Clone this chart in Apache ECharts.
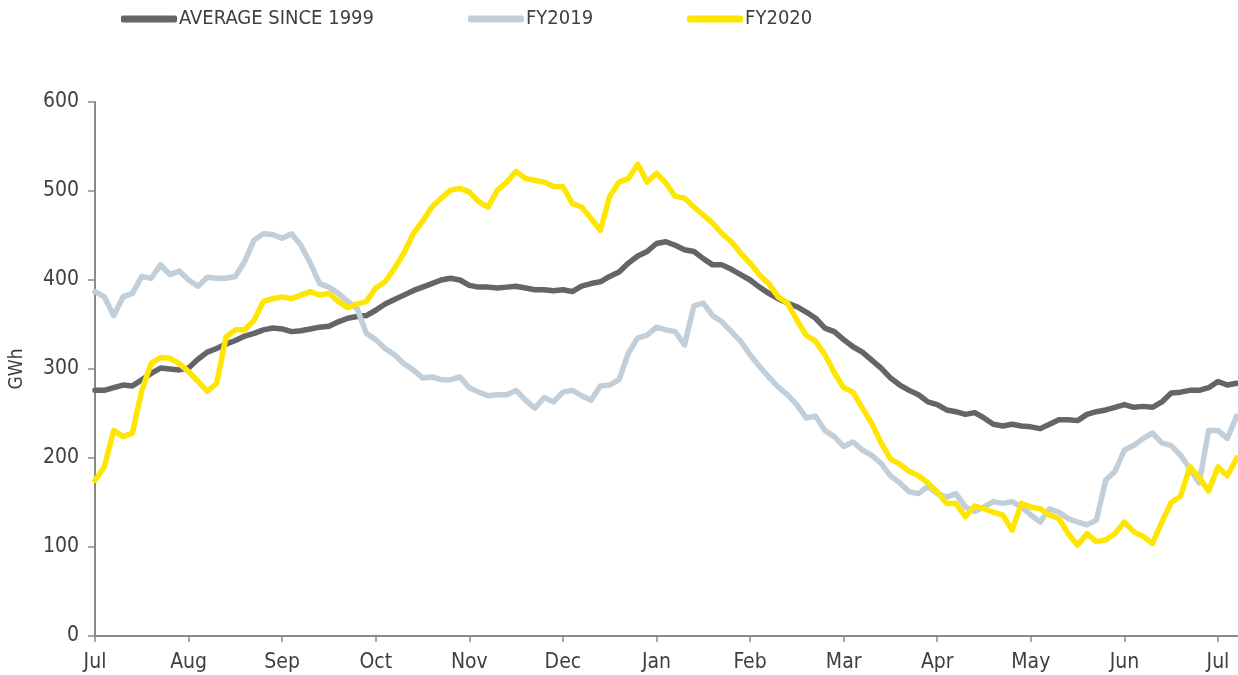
<!DOCTYPE html>
<html>
<head>
<meta charset="utf-8">
<script src="https://cdn.jsdelivr.net/npm/echarts@6/dist/echarts.min.js"></script>
<style>
  html, body { margin: 0; padding: 0; background: #ffffff; }
  #chart { width: 1238px; height: 675px; }
</style>
</head>
<body>
<div id="chart"></div>
<script>
// month labels on the x axis (financial year Jul -> Jul)
var months = ['Jul', 'Aug', 'Sep', 'Oct', 'Nov', 'Dec', 'Jan', 'Feb', 'Mar', 'Apr', 'May', 'Jun', 'Jul'];
var seriesNames = ['AVERAGE SINCE 1999', 'FY2019', 'FY2020'];
// readings every 0.1 month, GWh
var step = 0.1;
var average = [
  276, 276, 279, 282, 281, 288, 295, 301, 300, 299, 301, 311, 319, 323, 328, 332, 337, 340, 344, 346, 345, 342, 343, 345, 347,
  348, 353, 357, 359, 360, 366, 373, 378, 383, 388, 392, 396, 400, 402, 400, 394, 392, 392, 391, 392, 393, 391, 389, 389,
  388, 389, 387, 393, 396, 398, 404, 409, 419, 427, 432, 441, 443, 439, 434, 432, 424, 417, 417, 412, 406, 400, 392, 385, 379,
  374, 370, 364, 357, 346, 342, 333, 325, 319, 310, 301, 290, 282, 276, 271, 263, 260, 254, 252, 249, 251, 245, 238, 236,
  238, 236, 235, 233, 238, 243, 243, 242, 249, 252, 254, 257, 260, 257, 258, 257, 263, 273, 274, 276, 276, 279, 286, 282, 284
];
var fy2019 = [
  387, 381, 360, 381, 385, 404, 402, 417, 406, 410, 400, 393, 403, 402, 402, 404, 421, 445, 452, 451, 447, 452, 439, 419, 396,
  392, 385, 376, 368, 340, 333, 323, 316, 306, 299, 290, 291, 288, 288, 291, 279, 274, 270, 271, 271, 276, 265, 256, 268,
  263, 274, 276, 270, 265, 281, 282, 288, 318, 335, 338, 347, 344, 342, 327, 371, 374, 360, 353, 342, 331, 316, 303, 291, 280,
  271, 260, 245, 247, 231, 224, 213, 218, 209, 203, 194, 180, 172, 162, 160, 168, 160, 156, 160, 145, 140, 145, 151, 149,
  151, 145, 136, 128, 143, 139, 132, 128, 125, 130, 175, 185, 209, 214, 222, 228, 217, 214, 203, 188, 172, 231, 231, 222, 247
];
var fy2020 = [
  175, 190, 231, 224, 228, 276, 306, 313, 312, 306, 297, 286, 275, 284, 336, 344, 344, 355, 376, 379, 381, 379, 383, 387, 383,
  385, 376, 369, 373, 376, 391, 398, 413, 430, 452, 466, 482, 492, 501, 503, 499, 488, 482, 501, 510, 522, 514, 512, 510,
  505, 505, 486, 482, 469, 456, 494, 510, 514, 530, 510, 520, 509, 494, 492, 482, 473, 464, 452, 443, 430, 419, 406, 396, 381,
  374, 355, 338, 331, 316, 296, 279, 274, 256, 239, 217, 199, 193, 185, 180, 172, 162, 149, 149, 134, 146, 143, 139, 136,
  119, 149, 145, 143, 136, 132, 115, 102, 115, 106, 108, 115, 128, 117, 112, 104, 128, 150, 157, 190, 178, 163, 190, 180, 200
];
var colors = ['#646469', '#c1cfda', '#ffe600'];

function toPairs(arr) {
  return arr.map(function (v, i) { return [+(i * step).toFixed(2), v]; });
}

var monthTicks = months.map(function (m, i) { return i; });
var font = "'DejaVu Sans Condensed', 'DejaVu Sans', sans-serif";
var textColor = '#404040';

var chart = echarts.init(document.getElementById('chart'));
var option = {
  animation: false,
  backgroundColor: '#ffffff',
  color: colors,
  textStyle: { fontFamily: font },
  legend: {
    left: 121,
    top: 8,
    padding: 0,
    itemGap: 94,
    itemWidth: 56,
    itemHeight: 7,
    icon: 'roundRect',
    textStyle: { fontFamily: font, fontSize: 20, color: textColor, lineHeight: 22, padding: [0, 0, 0, -3] },
    data: seriesNames
  },
  grid: { left: 95, right: 0, top: 102, bottom: 39 },
  xAxis: {
    type: 'value',
    min: 0,
    max: 12.214,
    splitLine: { show: false },
    axisLine: { lineStyle: { color: '#8a8a8a', width: 2 } },
    axisTick: { customValues: monthTicks, length: 6, lineStyle: { color: '#8a8a8a', width: 1.5 } },
    axisLabel: {
      customValues: monthTicks,
      margin: 16,
      fontFamily: font,
      fontSize: 21,
      color: textColor,
      formatter: function (v) { return months[Math.round(v)]; }
    }
  },
  yAxis: {
    type: 'value',
    min: 0,
    max: 600,
    interval: 100,
    name: 'GWh',
    nameLocation: 'middle',
    nameRotate: 90,
    nameGap: 68,
    nameTextStyle: { fontFamily: font, fontSize: 19, color: textColor },
    splitLine: { show: false },
    axisLine: { show: true, lineStyle: { color: '#8a8a8a', width: 2 } },
    axisTick: { show: true, length: 7, lineStyle: { color: '#8a8a8a', width: 1.5 } },
    axisLabel: { margin: 16, fontFamily: font, fontSize: 21, color: textColor }
  },
  series: [
    { name: seriesNames[0], data: toPairs(average) },
    { name: seriesNames[1], data: toPairs(fy2019) },
    { name: seriesNames[2], data: toPairs(fy2020) }
  ].map(function (s, k) {
    return {
      name: s.name,
      type: 'line',
      data: s.data,
      showSymbol: false,
      z: 2 + k,
      lineStyle: { width: 5.5, color: colors[k], cap: 'round', join: 'round' }
    };
  })
};
chart.setOption(option);
</script>
</body>
</html>
